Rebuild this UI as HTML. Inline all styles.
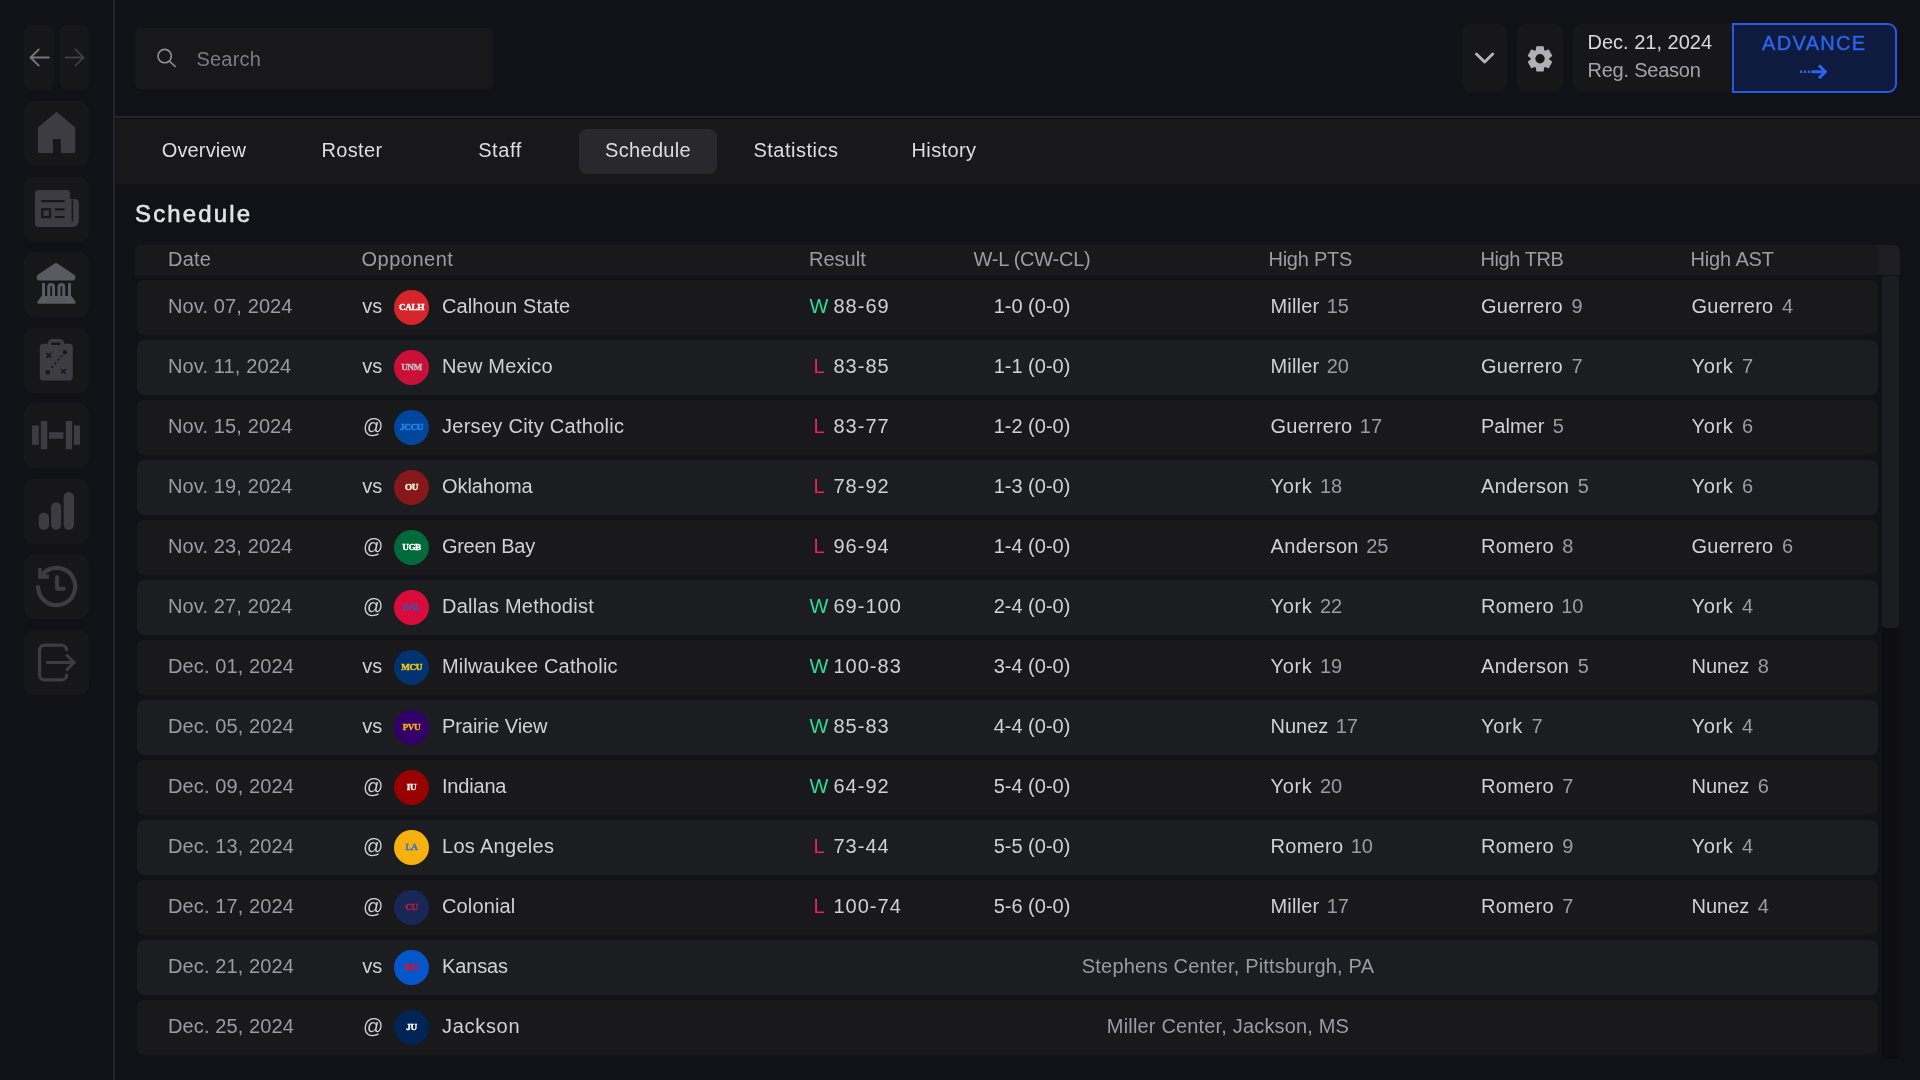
<!DOCTYPE html>
<html lang="en">
<head>
<meta charset="utf-8">
<title>Schedule</title>
<style>
*{box-sizing:border-box;margin:0;padding:0}
html,body{width:1920px;height:1080px;overflow:hidden;background:#111217;color:#d4d4d8;font-family:"Liberation Sans",sans-serif;font-size:20px}
body{position:relative}
#app{position:absolute;left:0;top:0;width:1920px;height:1080px;will-change:transform}
.sidebar{position:absolute;left:0;top:0;width:115px;height:1080px;background:#111217;border-right:2px solid #242429}
.sb{position:absolute;left:24px;width:65px;height:65px;border-radius:10px;background:#17171a}
.sb>svg{position:absolute;left:0;top:0;width:65px;height:65px}
.nav{position:absolute;top:25px;width:29.8px;height:65px;border-radius:7px;background:#17171a}
.nav>svg{position:absolute;left:0;top:0;width:30px;height:65px}
.topline{position:absolute;left:115px;top:116px;width:1805px;height:2px;background:#242429}
.search{position:absolute;left:134.5px;top:28.3px;width:358.5px;height:61px;border-radius:5px;background:#18181b}
.search>svg{position:absolute;left:0;top:0;width:61px;height:61px}
.search span{position:absolute;left:62px;top:18.7px;line-height:24px;font-size:20px;color:#7c7c84;letter-spacing:.2px}
.tb{position:absolute;top:23.6px;height:68.6px;border-radius:9px;background:#17171a}
.tb>svg{position:absolute;left:0;top:0}
.datebox{position:absolute;left:1573px;top:23.6px;width:170px;height:68.6px;border-radius:9px 0 0 9px;background:#17171a}
.datebox .d1{position:absolute;left:14.5px;top:6.5px;line-height:24px;font-size:20px;color:#d9d9dc;white-space:nowrap}
.datebox .d2{position:absolute;left:14.5px;top:34.8px;line-height:24px;font-size:20px;color:#a3a3a9;white-space:nowrap}
.adv{position:absolute;left:1732px;top:23px;width:165px;height:70px;border:2px solid #2559e6;border-radius:0 9px 9px 0;background:#0e1a3e}
.adv span{position:absolute;left:-0.9px;width:100%;text-align:center;top:5.8px;line-height:24px;font-size:20px;font-weight:400;letter-spacing:1.3px;text-indent:1.3px;color:#2c63f0;-webkit-text-stroke:0.4px #2c63f0}
.adv>svg{position:absolute;left:0;top:0}
.tabs{position:absolute;left:116px;top:119px;width:1804px;height:64.5px;background:#18181b}
.tab{position:absolute;top:10px;width:138px;height:45px;border-radius:8px;text-align:center;line-height:43px;font-size:20px;color:#dedee1}
.tab.on{background:#29292d}
h1{position:absolute;left:135px;top:199.2px;font-size:24px;line-height:30px;font-weight:400;letter-spacing:2.15px;color:#e2e2e4;-webkit-text-stroke:0.62px #e2e2e4}
.tbl{position:absolute;left:135px;top:245px;width:1765px;height:835px}
.thead{position:absolute;left:0;top:0;width:1765px;height:30px;background:#1e1e22;border-radius:6px 6px 0 0}
.thead:before{content:"";position:absolute;left:0;top:0;width:1743px;height:30px;background:#19191c;border-radius:6px 6px 0 0}
.h{position:absolute;top:2px;line-height:24px;font-size:20px;color:#9c9ca3;white-space:nowrap}
.hgut{display:none}
.row{position:absolute;left:2px;width:1741px;height:55px;border-radius:7px}
.row.odd{background:#19191c}
.row.even{background:#1c1d21}
.c{position:absolute;top:14px;line-height:24px;font-size:20px;white-space:nowrap;color:#d1d1d5}
.date{left:31px;color:#9b9ba2}
.vs{left:225.3px}
.at{left:226px}
.logo{position:absolute;left:257px;top:10px;width:35px;height:35px;border-radius:50%;text-align:center;line-height:35px;font-family:"Liberation Serif",serif;font-size:9.2px;letter-spacing:-.4px;-webkit-text-stroke:.4px currentColor}
.logo b{display:inline-block;font-weight:700}
.name{left:305px}
.res{left:672px;width:20px;text-align:center}
.w{color:#30dc9c}
.l{color:#ef1d5c}
.score{left:696.5px}
.rec{left:795px;width:200px;text-align:center}
.pts{left:1133.5px}
.trb{left:1344px}
.ast{left:1554.5px}
.c i{font-style:normal;color:#9b9ba2;margin-left:7.4px}
.c i.s{margin-left:8.5px}
.venue{left:791px;width:600px;text-align:center;color:#9b9ba2}
.strack{position:absolute;left:1746.7px;top:31px;width:17.5px;height:783px;background:#0e0e12;border-radius:3px}
.sthumb{position:absolute;left:0;top:0;width:17.5px;height:352px;background:#1c1d21;border-radius:3px}

.date{letter-spacing:.12px}
.score{letter-spacing:1px}

</style>
</head>
<body>
<div id="app">
<div class="sidebar">
<div class="nav" style="left:24.1px"><svg viewBox="0 0 30 65"><path d="M24.8 32.5H6.8M14.75 24.4L6.6 32.5l8.15 8.1" fill="none" stroke="#76767e" stroke-width="1.9" stroke-linecap="round" stroke-linejoin="round"/></svg></div>
<div class="nav" style="left:59.6px"><svg viewBox="0 0 30 65"><path d="M5.6 32.5h18M15.4 24.4l8.15 8.1-8.15 8.1" fill="none" stroke="#3d3d44" stroke-width="1.9" stroke-linecap="round" stroke-linejoin="round"/></svg></div>
<div class="sb" style="top:101px"><svg viewBox="0 0 65 65"><path d="M14 26.6L32.6 10.8 51.3 26.6V50.4a1.5 1.5 0 0 1-1.5 1.5H36.8V38H28.9V51.9H15.5a1.5 1.5 0 0 1-1.5-1.5Z" fill="#3c3c42"/></svg></div>
<div class="sb" style="top:176.5px"><svg viewBox="0 0 65 65"><path d="M15 12.9H42.1a4 4 0 0 1 4 4V21.9h4.7a4 4 0 0 1 4 4V44a6 6 0 0 1-6 6H15a4 4 0 0 1-4-4V16.9a4 4 0 0 1 4-4Z" fill="#3c3c42"/><path d="M48.4 22.5V44.3" stroke="#18181b" stroke-width="1.6" fill="none"/><path d="M17.3 24.2H40.6M31 32.4h9.6M31 40h9.6" stroke="#18181b" stroke-width="2.2" fill="none"/><rect x="18.3" y="32.3" width="7.7" height="7.7" fill="none" stroke="#18181b" stroke-width="2.2"/></svg></div>
<div class="sb" style="top:252px"><svg viewBox="0 0 65 65"><path d="M30.6 11.5a2.6 2.6 0 0 1 2.8 0L49.8 22.6c2.6 1.8 2 5.9-1.6 5.9H15.8c-3.6 0-4.2-4.100-1.600-5.900Z" fill="#5a5a62"/><path d="M18 31h3v13h-3zM44 31h3v13h-3zM23.250 44V34.900a3.900 3.900 0 0 1 7.800 0V44h-3V34.900a.9.900 0 0 0-1.800 0V44zM33.500 44V34.900a3.900 3.900 0 0 1 7.800 0V44h-3V34.900a.9.900 0 0 0-1.800 0V44z" fill="#5a5a62"/><path d="M17.500 44h30l3.900 5.600c.9 1.200.2 2.200-1.100 2.200H14.700c-1.300 0-2-1-1.100-2.200Z" fill="#5a5a62"/></svg></div>
<div class="sb" style="top:327.500px"><svg viewBox="0 0 65 65"><path d="M24 15.800v-.7a4.200 4.200 0 0 1 4.200-4.200h7.600a4.200 4.200 0 0 1 4.200 4.200v.7h5.300a3.500 3.500 0 0 1 3.500 3.500V49a3.500 3.500 0 0 1-3.500 3.500H19.300a3.500 3.500 0 0 1-3.500-3.500V19.300a3.500 3.500 0 0 1 3.500-3.500Z" fill="#3c3c42"/><rect x="27" y="14.500" width="9.700" height="2.500" rx="1.250" fill="#18181b"/><path d="M22.400 25.100l4.800 4.800m0-4.800l-4.800 4.800M37 41l4.800 4.800m0-4.800L37 45.800" stroke="#18181b" stroke-width="1.500" fill="none"/><circle cx="40.900" cy="24.200" r="2.200" fill="#18181b"/><rect x="21.800" y="42.300" width="4" height="4" fill="#18181b"/><path d="M38.300 27.200L26.500 41" stroke="#18181b" stroke-width="1.600" stroke-dasharray="2.200 2.600" fill="none"/></svg></div>
<div class="sb" style="top:403px"><svg viewBox="0 0 65 65"><path d="M8.100 22.600h6.650v19.200H8.100zM16.850 18h6.350v28.300h-6.350zM25 29.200h14.400v6.600H25zM41.800 18h6.350v28.300H41.800zM50 22.600h6v19.200h-6z" fill="#3c3c42"/></svg></div>
<div class="sb" style="top:478.500px"><svg viewBox="0 0 65 65"><rect x="14.750" y="33.800" width="10.250" height="16.900" rx="4.600" fill="#3c3c42"/><rect x="27.100" y="23.500" width="10" height="27.200" rx="4.600" fill="#3c3c42"/><rect x="39.700" y="13.300" width="10.300" height="37.400" rx="4.600" fill="#3c3c42"/></svg></div>
<div class="sb" style="top:554px"><svg viewBox="0 0 65 65"><path d="M18.46 20.42A18.6 18.6 0 1 1 14.03 31.36" fill="none" stroke="#3c3c42" stroke-width="4.200"/><path d="M14.100 14.100H17.600V20.500H25V24.700H14.100Z" fill="#3c3c42"/><path d="M33.100 23.100v11.650h6.600" fill="none" stroke="#3c3c42" stroke-width="4.100" stroke-linecap="round" stroke-linejoin="round"/></svg></div>
<div class="sb" style="top:629.500px"><svg viewBox="0 0 65 65"><path d="M42.600 21V20.100a5 5 0 0 0-5-5H20.600a5 5 0 0 0-5 5V44.900a5 5 0 0 0 5 5H37.600a5 5 0 0 0 5-5V44" fill="none" stroke="#3c3c42" stroke-width="3.200"/><path d="M23.500 32.500H49" fill="none" stroke="#3c3c42" stroke-width="3.200" stroke-linecap="round"/><path d="M42.100 24.500L50 32.500l-7.900 8" fill="none" stroke="#3c3c42" stroke-width="3.200"/></svg></div>
</div>
<div class="topline"></div>
<div class="search"><svg viewBox="0 0 61 61"><circle cx="29.700" cy="28.100" r="6.700" fill="none" stroke="#8e8e96" stroke-width="1.600"/><path d="M34.600 33.300l5.700 5.200" stroke="#8e8e96" stroke-width="1.600" stroke-linecap="round"/></svg><span>Search</span></div>
<div class="tb" style="left:1462px;width:45px"><svg width="45" height="68" viewBox="0 0 45 68"><path d="M14.500 30l8.100 8 8.100-8" fill="none" stroke="#b4b4b8" stroke-width="2.900" stroke-linecap="round" stroke-linejoin="round"/></svg></div>
<div class="tb" style="left:1517px;width:46px"><svg width="46" height="69" viewBox="0 0 46 69"><svg x="11.500" y="22.850" width="23" height="23.900" viewBox="78 -880 804 800" preserveAspectRatio="none" overflow="visible"><path d="m370-80-16-128q-13-5-24.500-12T307-235l-119 50L78-375l103-78q-1-7-1-13.500v-27q0-6.500 1-13.500L78-585l110-190 119 50q11-8 23-15t24-12l16-128h220l16 128q13 5 24.500 12t22.500 15l119-50 110 190-103 78q1 7 1 13.500v27q0 6.500-2 13.500l103 78-110 190-118-50q-11 8-23 15t-24 12L590-80H370Z" fill="#b0b0b4" stroke="#b0b0b4" stroke-width="44" stroke-linejoin="round"/></svg><circle cx="23" cy="34.800" r="4.700" fill="#17171a"/></svg></div>
<div class="datebox"><span class="d1">Dec. 21, 2024</span><span class="d2" style="letter-spacing:-0.23px">Reg. Season</span></div>
<div class="adv"><span>ADVANCE</span><svg width="161" height="66" viewBox="0 0 161 66"><path d="M66 45.400h2.200v2.600H66zM69.800 45.400h2.200v2.600h-2.200zM73.700 45.400h2.200v2.600h-2.200z" fill="#2c63f0"/><path d="M78.500 46.700H90" stroke="#2c63f0" stroke-width="3" stroke-linecap="round" fill="none"/><path d="M84.900 40.200L91.300 46.700l-6.400 6.500" stroke="#2c63f0" stroke-width="3" fill="none"/></svg></div>
<div class="tabs">
<div class="tab" style="left:19px;letter-spacing:0.13px">Overview</div>
<div class="tab" style="left:167px;letter-spacing:0.38px">Roster</div>
<div class="tab" style="left:315px;letter-spacing:0.56px">Staff</div>
<div class="tab on" style="left:463px;letter-spacing:0.32px">Schedule</div>
<div class="tab" style="left:611px;letter-spacing:0.51px">Statistics</div>
<div class="tab" style="left:759px;letter-spacing:0.39px">History</div>
</div>
<h1>Schedule</h1>
<div class="tbl">
<div class="thead"><span class="h" style="left:33px;letter-spacing:0.22px">Date</span><span class="h ho" style="left:226.5px;letter-spacing:0.51px">Opponent</span><span class="h" style="left:674px">Result</span><span class="h" style="left:838.5px;letter-spacing:-0.24px">W-L (CW-CL)</span><span class="h" style="left:1133.5px;letter-spacing:-0.26px">High PTS</span><span class="h" style="left:1345.5px;letter-spacing:-0.44px">High TRB</span><span class="h" style="left:1555.5px;letter-spacing:-0.14px">High AST</span><div class="hgut"></div></div>
<div class="row odd" style="top:35px"><span class="c date">Nov. 07, 2024</span><span class="c vs">vs</span><span class="logo" style="background:#d6242b;color:#ffffff"><b class="l4">CALH</b></span><span class="c name" style="letter-spacing:0.12px">Calhoun State</span><span class="c res w">W</span><span class="c score">88-69</span><span class="c rec">1-0 (0-0)</span><span class="c pts"><span class="n" style="letter-spacing:0.17px">Miller</span><i>15</i></span><span class="c trb"><span class="n" style="letter-spacing:0.24px">Guerrero</span><i class="s">9</i></span><span class="c ast"><span class="n" style="letter-spacing:0.24px">Guerrero</span><i class="s">4</i></span></div>
<div class="row even" style="top:95px"><span class="c date">Nov. 11, 2024</span><span class="c vs">vs</span><span class="logo" style="background:#cb1038;color:#c4bcbf"><b class="l3">UNM</b></span><span class="c name" style="letter-spacing:0.18px">New Mexico</span><span class="c res l">L</span><span class="c score">83-85</span><span class="c rec">1-1 (0-0)</span><span class="c pts"><span class="n" style="letter-spacing:0.17px">Miller</span><i>20</i></span><span class="c trb"><span class="n" style="letter-spacing:0.24px">Guerrero</span><i class="s">7</i></span><span class="c ast"><span class="n" style="letter-spacing:0.68px">York</span><i class="s">7</i></span></div>
<div class="row odd" style="top:155px"><span class="c date">Nov. 15, 2024</span><span class="c at">@</span><span class="logo" style="background:#00479b;color:#2487ee"><b class="l4">JCCU</b></span><span class="c name" style="letter-spacing:0.28px">Jersey City Catholic</span><span class="c res l">L</span><span class="c score">83-77</span><span class="c rec">1-2 (0-0)</span><span class="c pts"><span class="n" style="letter-spacing:0.24px">Guerrero</span><i>17</i></span><span class="c trb"><span class="n">Palmer</span><i class="s">5</i></span><span class="c ast"><span class="n" style="letter-spacing:0.68px">York</span><i class="s">6</i></span></div>
<div class="row even" style="top:215px"><span class="c date">Nov. 19, 2024</span><span class="c vs">vs</span><span class="logo" style="background:#86181a;color:#fbf3d5"><b class="l2">OU</b></span><span class="c name" style="letter-spacing:-0.07px">Oklahoma</span><span class="c res l">L</span><span class="c score">78-92</span><span class="c rec">1-3 (0-0)</span><span class="c pts"><span class="n" style="letter-spacing:0.68px">York</span><i>18</i></span><span class="c trb"><span class="n" style="letter-spacing:0.34px">Anderson</span><i class="s">5</i></span><span class="c ast"><span class="n" style="letter-spacing:0.68px">York</span><i class="s">6</i></span></div>
<div class="row odd" style="top:275px"><span class="c date">Nov. 23, 2024</span><span class="c at">@</span><span class="logo" style="background:#006a3b;color:#ffffff"><b class="l3">UGB</b></span><span class="c name" style="letter-spacing:-0.31px">Green Bay</span><span class="c res l">L</span><span class="c score">96-94</span><span class="c rec">1-4 (0-0)</span><span class="c pts"><span class="n" style="letter-spacing:0.34px">Anderson</span><i>25</i></span><span class="c trb"><span class="n" style="letter-spacing:0.28px">Romero</span><i class="s">8</i></span><span class="c ast"><span class="n" style="letter-spacing:0.24px">Guerrero</span><i class="s">6</i></span></div>
<div class="row even" style="top:335px"><span class="c date">Nov. 27, 2024</span><span class="c at">@</span><span class="logo" style="background:#d80c3a;color:#4a4cae"><b class="l3">DAL</b></span><span class="c name" style="letter-spacing:0.26px">Dallas Methodist</span><span class="c res w">W</span><span class="c score">69-100</span><span class="c rec">2-4 (0-0)</span><span class="c pts"><span class="n" style="letter-spacing:0.68px">York</span><i>22</i></span><span class="c trb"><span class="n" style="letter-spacing:0.28px">Romero</span><i>10</i></span><span class="c ast"><span class="n" style="letter-spacing:0.68px">York</span><i class="s">4</i></span></div>
<div class="row odd" style="top:395px"><span class="c date">Dec. 01, 2024</span><span class="c vs">vs</span><span class="logo" style="background:#00336f;color:#f7c917"><b class="l3">MCU</b></span><span class="c name" style="letter-spacing:0.19px">Milwaukee Catholic</span><span class="c res w">W</span><span class="c score">100-83</span><span class="c rec">3-4 (0-0)</span><span class="c pts"><span class="n" style="letter-spacing:0.68px">York</span><i>19</i></span><span class="c trb"><span class="n" style="letter-spacing:0.34px">Anderson</span><i class="s">5</i></span><span class="c ast"><span class="n">Nunez</span><i class="s">8</i></span></div>
<div class="row even" style="top:455px"><span class="c date">Dec. 05, 2024</span><span class="c vs">vs</span><span class="logo" style="background:#33006a;color:#f2ac16"><b class="l3">PVU</b></span><span class="c name" style="letter-spacing:-0.07px">Prairie View</span><span class="c res w">W</span><span class="c score">85-83</span><span class="c rec">4-4 (0-0)</span><span class="c pts"><span class="n">Nunez</span><i>17</i></span><span class="c trb"><span class="n" style="letter-spacing:0.68px">York</span><i class="s">7</i></span><span class="c ast"><span class="n" style="letter-spacing:0.68px">York</span><i class="s">4</i></span></div>
<div class="row odd" style="top:515px"><span class="c date">Dec. 09, 2024</span><span class="c at">@</span><span class="logo" style="background:#990000;color:#f3ecec"><b class="l2">IU</b></span><span class="c name" style="letter-spacing:-0.19px">Indiana</span><span class="c res w">W</span><span class="c score">64-92</span><span class="c rec">5-4 (0-0)</span><span class="c pts"><span class="n" style="letter-spacing:0.68px">York</span><i>20</i></span><span class="c trb"><span class="n" style="letter-spacing:0.28px">Romero</span><i class="s">7</i></span><span class="c ast"><span class="n">Nunez</span><i class="s">6</i></span></div>
<div class="row even" style="top:575px"><span class="c date">Dec. 13, 2024</span><span class="c at">@</span><span class="logo" style="background:#f6b010;color:#3b77c8"><b class="l2">LA</b></span><span class="c name" style="letter-spacing:0.3px">Los Angeles</span><span class="c res l">L</span><span class="c score">73-44</span><span class="c rec">5-5 (0-0)</span><span class="c pts"><span class="n" style="letter-spacing:0.28px">Romero</span><i>10</i></span><span class="c trb"><span class="n" style="letter-spacing:0.28px">Romero</span><i class="s">9</i></span><span class="c ast"><span class="n" style="letter-spacing:0.68px">York</span><i class="s">4</i></span></div>
<div class="row odd" style="top:635px"><span class="c date">Dec. 17, 2024</span><span class="c at">@</span><span class="logo" style="background:#192756;color:#c01a38"><b class="l2">CU</b></span><span class="c name" style="letter-spacing:0.14px">Colonial</span><span class="c res l">L</span><span class="c score">100-74</span><span class="c rec">5-6 (0-0)</span><span class="c pts"><span class="n" style="letter-spacing:0.17px">Miller</span><i>17</i></span><span class="c trb"><span class="n" style="letter-spacing:0.28px">Romero</span><i class="s">7</i></span><span class="c ast"><span class="n">Nunez</span><i class="s">4</i></span></div>
<div class="row even" style="top:695px"><span class="c date">Dec. 21, 2024</span><span class="c vs">vs</span><span class="logo" style="background:#0457cb;color:#e60a28"><b class="l2">KU</b></span><span class="c name" style="letter-spacing:-0.14px">Kansas</span><span class="c venue" style="letter-spacing:0.19px">Stephens Center, Pittsburgh, PA</span></div>
<div class="row odd" style="top:755px"><span class="c date">Dec. 25, 2024</span><span class="c at">@</span><span class="logo" style="background:#002456;color:#ffffff"><b class="l2">JU</b></span><span class="c name" style="letter-spacing:0.7px">Jackson</span><span class="c venue" style="letter-spacing:0.17px">Miller Center, Jackson, MS</span></div>
<div class="strack"><div class="sthumb"></div></div>
</div>
</div>
</body>
</html>
